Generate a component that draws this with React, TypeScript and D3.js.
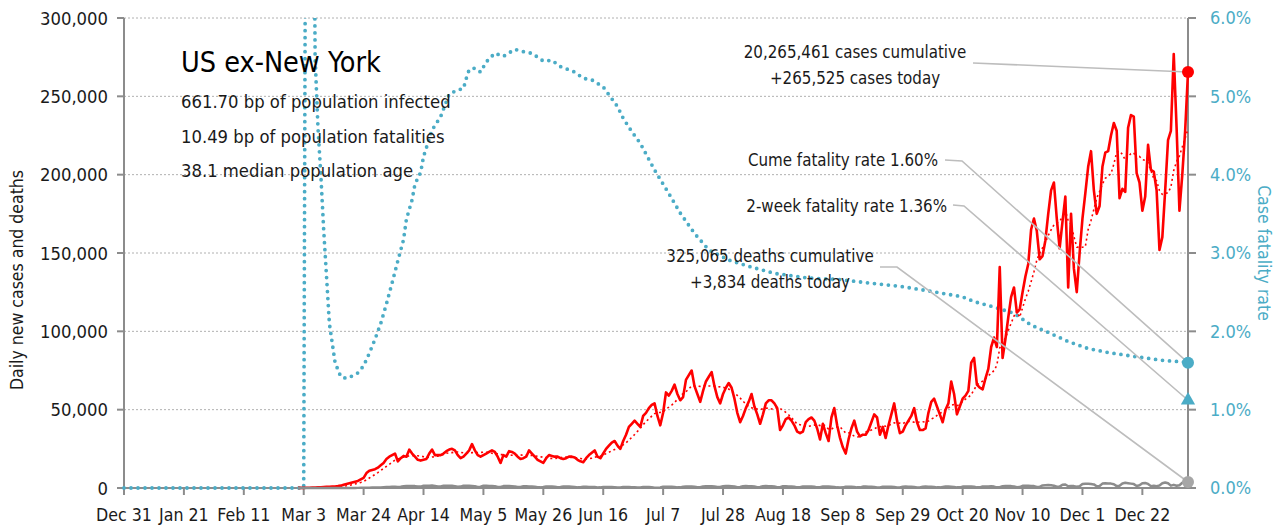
import React from "react";
import * as d3 from "d3";

// ---------- DATA ----------
const title = "US ex-New York";
const subtitleLines = [
  "661.70 bp of population infected",
  "10.49 bp of population fatalities",
  "38.1 median population age",
];
const domainStart = "2019-12-31";
const domainEnd = "2021-01-07";
const seriesStart = "2020-03-01";

const xTickLabels = [
  "Dec 31", "Jan 21", "Feb 11", "Mar 3", "Mar 24", "Apr 14", "May 5", "May 26", "Jun 16",
  "Jul 7", "Jul 28", "Aug 18", "Sep 8", "Sep 29", "Oct 20", "Nov 10", "Dec 1", "Dec 22",
];
const leftTicks = [0, 50000, 100000, 150000, 200000, 250000, 300000];
const rightTicks = [0, 1, 2, 3, 4, 5, 6];

// daily new cases, thousands, one per day from 2020-03-01
const dailyCasesK = [
  0.1, 0.1, 0.1, 0.15, 0.2, 0.25, 0.3,
  0.4, 0.5, 0.6, 0.7, 0.8, 0.9, 1.0,
  1.2, 1.5, 2.0, 2.5, 3.0, 3.5, 4.0,
  4.5, 5.5, 6.5, 9.5, 11, 11.5, 12,
  13, 14.5, 16, 18.5, 20, 21, 22,
  17, 19, 20.5, 20, 24.5, 22, 20,
  18, 17.5, 18, 18.5, 22, 24.5, 21,
  21, 21, 22, 23.5, 24.5, 25, 24,
  21, 19, 20, 22, 24, 28, 24,
  21, 20, 21, 22, 23, 24, 23,
  20, 16, 21, 20, 23.5, 23, 22,
  20, 18.5, 19, 20, 24, 22, 20,
  18, 17, 16, 19, 21, 20.5, 20,
  20, 19, 18.5, 19, 20, 20, 19.5,
  18, 17, 16.5, 19, 21, 22.5, 24,
  20,
  19, 22, 25, 27, 29, 30, 27,
  25, 30, 34, 39, 41, 43, 41,
  39, 46, 48, 51, 53, 54, 46,
  40, 48, 61, 59, 62, 66, 60,
  56, 58, 69, 72, 75, 65, 60,
  55, 62, 68, 71, 74, 65, 58,
  54, 60, 64, 67, 64, 57, 48,
  42, 46, 51, 55, 60, 52, 47,
  41, 47, 54, 56, 56, 54, 51,
  37, 40, 44, 45, 43, 40, 36,
  35, 36, 42, 44, 45, 43, 38,
  31, 41, 35, 30, 45, 51, 40,
  32, 26, 22, 31, 38, 43, 36,
  33, 34, 34, 37, 42, 47, 45,
  34, 39, 32, 40, 47, 54, 43,
  35, 36, 40, 43, 46, 51, 42,
  37, 37, 38, 48, 55, 57, 52,
  47, 42, 50, 54, 68, 60, 47,
  52, 57, 59, 62, 80, 83, 66,
  64, 63, 70, 76, 90, 96, 90,
  141, 83, 95, 109, 122, 128, 112,
  114, 125, 135, 143, 165, 172, 164,
  146, 148, 158, 175, 190, 195, 172,
  153, 170, 186, 128, 175, 140, 125,
  150, 172, 188, 205, 215, 190, 175,
  180, 205, 214, 215, 225, 233, 228,
  185, 191, 189, 230, 238, 237, 201,
  195, 177, 186, 219, 203, 202, 190,
  152, 160, 190, 222, 228, 277, 230,
  177, 200, 228, 265.525,
];

// daily deaths, hundreds, one per day from 2020-03-01
const dailyDeathsH = [
  0, 0, 0, 0, 0, 0, 0,
  0, 0, 0, 0, 0, 0.1, 0.1,
  0.1, 0.2, 0.2, 0.3, 0.4, 0.5, 0.6,
  0.8, 1, 1.3, 1.6, 2, 2.5, 3,
  3, 3.5, 5, 6, 7, 8, 8,
  7, 8, 11, 12, 13, 13, 12,
  9, 9, 14, 15, 14, 16, 13,
  9, 10, 14, 15, 14, 14, 12,
  8, 9, 15, 14, 14, 13, 11,
  7, 8, 14, 15, 13, 13, 11,
  6, 7, 12, 13, 12, 11, 10,
  6, 7, 11, 11, 10, 10, 8,
  5, 4, 6, 10, 10, 9, 8,
  5, 6, 9, 9, 9, 8, 7,
  4, 5, 8, 8, 7, 7, 6,
  3, 4, 7, 7, 6, 6, 5,
  3, 3, 7, 6, 6, 5, 5,
  3, 3, 6, 6, 6, 5, 2,
  2, 3, 8, 8, 8, 8, 7,
  4, 4, 8, 9, 9, 9, 8,
  5, 5, 10, 11, 11, 11, 9,
  6, 7, 11, 12, 12, 11, 10,
  5, 6, 11, 12, 11, 11, 9,
  5, 6, 11, 12, 11, 11, 9,
  5, 5, 11, 11, 10, 10, 8,
  4, 5, 10, 10, 10, 9, 8,
  4, 5, 9, 9, 9, 8, 7,
  4, 3, 4, 8, 8, 8, 7,
  4, 4, 9, 9, 8, 8, 7,
  3, 3, 8, 8, 8, 8, 7,
  3, 3, 8, 9, 8, 8, 7,
  3, 3, 8, 9, 8, 8, 7,
  4, 4, 7, 9, 9, 8, 7,
  4, 4, 9, 10, 9, 9, 8,
  4, 4, 10, 10, 10, 11, 9,
  4, 5, 11, 12, 12, 12, 10,
  5, 6, 14, 14, 14, 13, 12,
  6, 7, 16, 18, 19, 18, 14,
  8, 9, 21, 22, 11, 13, 12,
  8, 11, 25, 27, 27, 25, 23,
  11, 13, 28, 30, 29, 28, 24,
  12, 15, 29, 33, 31, 28, 25,
  13, 18, 31, 32, 26, 12, 15,
  12, 16, 30, 35, 30, 15, 20,
  14, 18, 33, 38, 38.34,
];

// case fatality rate (%)
const cfrDates = [
  "2019-12-31", "2020-03-03", "2020-03-04", "2020-03-05", "2020-03-06", "2020-03-07",
  "2020-03-08", "2020-03-09", "2020-03-10", "2020-03-11", "2020-03-12", "2020-03-14",
  "2020-03-16", "2020-03-18", "2020-03-20", "2020-03-22", "2020-03-24", "2020-03-26",
  "2020-03-28", "2020-03-30", "2020-04-01", "2020-04-03", "2020-04-05", "2020-04-07",
  "2020-04-08", "2020-04-10", "2020-04-11", "2020-04-13", "2020-04-14", "2020-04-17",
  "2020-04-20", "2020-04-23", "2020-04-26", "2020-04-28", "2020-04-29", "2020-04-30",
  "2020-05-02", "2020-05-04", "2020-05-06", "2020-05-09", "2020-05-12", "2020-05-16",
  "2020-05-20", "2020-05-22", "2020-05-26", "2020-05-29", "2020-06-01", "2020-06-06",
  "2020-06-09", "2020-06-12", "2020-06-16", "2020-06-18", "2020-06-21", "2020-06-23",
  "2020-06-26", "2020-06-29", "2020-07-04", "2020-07-09", "2020-07-13", "2020-07-18",
  "2020-07-23", "2020-07-30", "2020-08-06", "2020-08-15", "2020-08-27", "2020-09-07",
  "2020-09-19", "2020-09-29", "2020-10-09", "2020-10-20", "2020-10-24", "2020-10-31",
  "2020-11-07", "2020-11-13", "2020-11-20", "2020-11-26", "2020-12-03", "2020-12-10",
  "2020-12-19", "2020-12-29", "2021-01-05", "2021-01-07",
];
const cfrPct = [
  0, 0, 12, 14, 11, 5.5,
  4.6, 4.0, 3.3, 2.7, 2.1, 1.6,
  1.42, 1.40, 1.43, 1.47, 1.56, 1.72,
  1.9, 2.1, 2.35, 2.62, 2.9, 3.17,
  3.43, 3.68, 3.88, 4.03, 4.23, 4.57,
  4.74, 5.03, 5.08, 5.1, 5.23, 5.34,
  5.36, 5.31, 5.44, 5.55, 5.51, 5.6,
  5.56, 5.55, 5.45, 5.46, 5.38, 5.31,
  5.23, 5.21, 5.12, 5.02, 4.87, 4.72,
  4.55, 4.4, 4.06, 3.76, 3.51, 3.25,
  3.04, 2.91, 2.83, 2.74, 2.68, 2.66,
  2.61, 2.57, 2.51, 2.44, 2.38, 2.31,
  2.23, 2.08, 1.97, 1.87, 1.78, 1.73,
  1.68, 1.63, 1.61, 1.60,
];

const lastCases = 265525;
const lastDeaths = 3834;
const cumeCfr = 1.6;
const twoWeekMarker = 1.12;
const annotations = {
  cases: ["20,265,461 cases cumulative", "+265,525 cases today"],
  cume: "Cume fatality rate 1.60%",
  twoWeek: "2-week fatality rate 1.36%",
  deaths: ["325,065 deaths cumulative", "+3,834 deaths today"],
};

// ---------- STYLE ----------
const W = 1282;
const H = 529;
const PL = 124, PR = 1188, PT = 18, PB = 488;
const FONT = "'DejaVu Sans Condensed', 'DejaVu Sans', sans-serif";
const BLUE = "#4bacc6";
const RED = "#ff0000";
const AXIS = "#8c8c8c";
const TXT = "#1a1a1a";
const LEAD = "#bdbdbd";

export default function App() {
  const parse = d3.utcParse("%Y-%m-%d");
  const x = d3.scaleUtc().domain([parse(domainStart)!, parse(domainEnd)!]).range([PL, PR]);
  const y = d3.scaleLinear().domain([0, 300000]).range([PB, PT]);
  const y2 = d3.scaleLinear().domain([0, 6]).range([PB, PT]);

  const s0 = parse(seriesStart)!;
  const cases = dailyCasesK.map((v, i) => ({ d: d3.utcDay.offset(s0, i), v: v * 1000 }));
  const deaths = dailyDeathsH.map((v, i) => ({ d: d3.utcDay.offset(s0, i), v: v * 100 }));
  const avg = cases
    .map((c, i) => (i >= 6 ? { d: c.d, v: d3.mean(cases.slice(i - 6, i + 1), (e) => e.v)! } : null))
    .filter(Boolean) as { d: Date; v: number }[];
  const cfr = cfrDates.map((s, i) => ({ d: parse(s)!, v: cfrPct[i] }));

  const line = d3.line<{ d: Date; v: number }>().x((p) => x(p.d)).y((p) => y(p.v));
  const line2 = d3.line<{ d: Date; v: number }>().x((p) => x(p.d)).y((p) => y2(p.v));

  const xTicks = xTickLabels.map((l, i) => ({ l, d: d3.utcDay.offset(parse(domainStart)!, i * 21) }));
  const lastDate = parse(domainEnd)!;
  const xe = x(lastDate);
  const fmt = d3.format(",");

  const triSize = 14;
  const tri = d3.symbol().type(d3.symbolTriangle).size(triSize * triSize * 0.45)();

  return (
    <svg width={W} height={H} style={{ position: "absolute", left: 0, top: 0, background: "#fff" }} fontFamily={FONT}>
      <defs>
        <clipPath id="plot">
          <rect x={PL - 5} y={PT} width={PR - PL + 10} height={PB - PT + 5} />
        </clipPath>
      </defs>
      {/* grid */}
      {leftTicks.filter((t) => t > 0).map((t) => (
        <line key={t} x1={PL} x2={PR} y1={y(t)} y2={y(t)} stroke="#b0b0b0" strokeWidth={1} strokeDasharray="2,2" />
      ))}
      {/* axes */}
      <line x1={PL} x2={PL} y1={PT} y2={PB} stroke={AXIS} strokeWidth={2} />
      <line x1={PR} x2={PR} y1={PT} y2={PB} stroke={AXIS} strokeWidth={2} />
      <line x1={PL} x2={PR} y1={PB} y2={PB} stroke={AXIS} strokeWidth={2} />
      {leftTicks.map((t) => (
        <g key={"l" + t}>
          <line x1={PL - 7} x2={PL} y1={y(t)} y2={y(t)} stroke={AXIS} strokeWidth={2} />
          <text x={PL - 16} y={y(t)} dy="0.36em" textAnchor="end" fontSize={18.3} fill={TXT}>
            {fmt(t)}
          </text>
        </g>
      ))}
      {rightTicks.map((t) => (
        <g key={"r" + t}>
          <line x1={PR} x2={PR + 8} y1={y2(t)} y2={y2(t)} stroke={AXIS} strokeWidth={2} />
          <text x={PR + 22} y={y2(t)} dy="0.36em" textAnchor="start" fontSize={18} fill={BLUE}>
            {t.toFixed(1) + "%"}
          </text>
        </g>
      ))}
      {xTicks.map((t) => (
        <g key={t.l}>
          <line x1={x(t.d)} x2={x(t.d)} y1={PB} y2={PB + 7} stroke={AXIS} strokeWidth={2} />
          <text x={x(t.d)} y={521} textAnchor="middle" fontSize={17.6} fill={TXT}>
            {t.l}
          </text>
        </g>
      ))}
      <text transform={`translate(23,${(PT + PB) / 2 + 27}) rotate(-90)`} textAnchor="middle" fontSize={17.5} fill={TXT}>
        Daily new cases and deaths
      </text>
      <text transform={`translate(1258,${(PT + PB) / 2}) rotate(90)`} textAnchor="middle" fontSize={17.5} fill={BLUE}>
        Case fatality rate
      </text>

      {/* series */}
      <g clipPath="url(#plot)">
        <path d={line2(cfr)!} fill="none" stroke={BLUE} strokeWidth={3.8} strokeLinecap="round" strokeDasharray="0,7" />
        <path d={line(avg)!} fill="none" stroke={RED} strokeWidth={1.6} strokeDasharray="2,3" />
        <path d={line(cases)!} fill="none" stroke={RED} strokeWidth={2.6} strokeLinejoin="round" />
        <path d={line(deaths)!} fill="none" stroke="#8c8c8c" strokeWidth={2.5} strokeLinejoin="round" />
      </g>

      {/* title */}
      <text x={181} y={72} fontSize={28.5} fill="#000">{title}</text>
      {subtitleLines.map((s, i) => (
        <text key={s} x={181} y={108 + i * 34.5} fontSize={18.3} fill={TXT}>{s}</text>
      ))}

      {/* leader lines */}
      <g stroke={LEAD} strokeWidth={1.6} fill="none">
        <polyline points={`973,63 ${xe},${y(lastCases)}`} />
        <polyline points={`945,160 962,161 ${xe},${y2(cumeCfr)}`} />
        <polyline points={`953,205 964,206 ${xe},${y2(twoWeekMarker)}`} />
        <polyline points={`880,267 897,267 ${xe},${y(lastDeaths)}`} />
      </g>
      {/* markers */}
      <circle cx={xe} cy={y(lastCases)} r={6} fill={RED} />
      <circle cx={xe} cy={y2(cumeCfr)} r={6} fill={BLUE} />
      <path d={tri!} transform={`translate(${xe},${y2(twoWeekMarker)})`} fill={BLUE} />
      <circle cx={xe} cy={y(lastDeaths)} r={6} fill="#a6a6a6" />

      {/* annotations */}
      <g fontSize={16.8} fill={TXT}>
        <text x={855} y={58} textAnchor="middle">{annotations.cases[0]}</text>
        <text x={855} y={84} textAnchor="middle">{annotations.cases[1]}</text>
        <text x={938} y={166} textAnchor="end">{annotations.cume}</text>
        <text x={947} y={212} textAnchor="end">{annotations.twoWeek}</text>
        <text x={770} y={262} textAnchor="middle">{annotations.deaths[0]}</text>
        <text x={770} y={288} textAnchor="middle">{annotations.deaths[1]}</text>
      </g>
    </svg>
  );
}
